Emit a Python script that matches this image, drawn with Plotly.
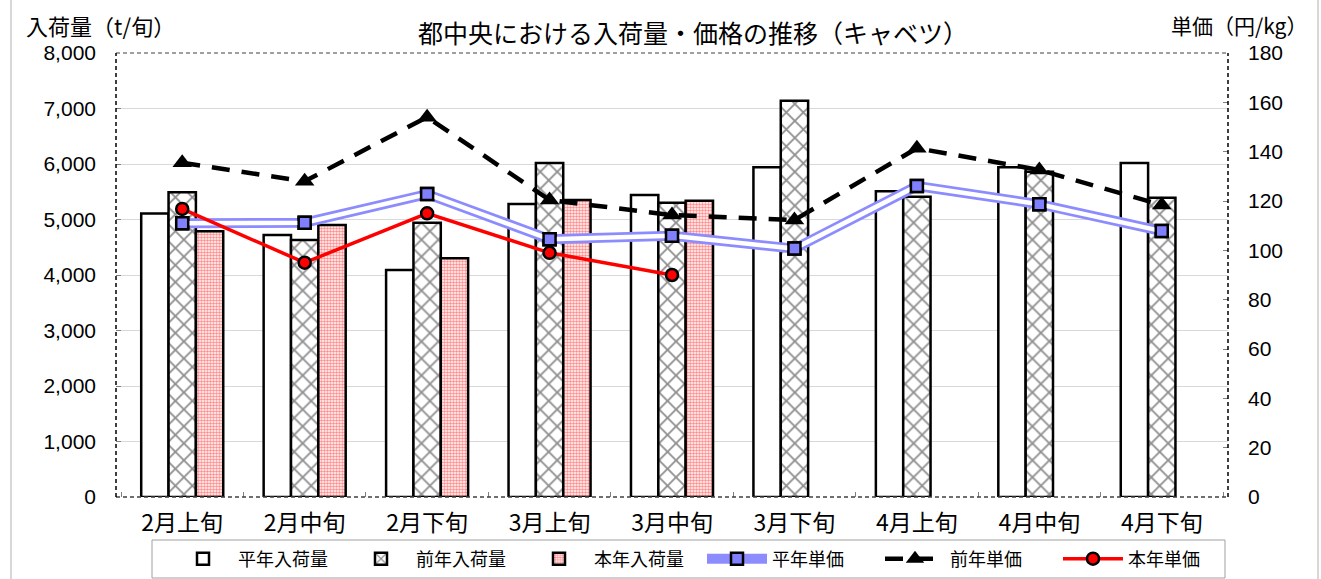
import plotly.graph_objects as go

# 旬別カテゴリ
categories = ["2月上旬", "2月中旬", "2月下旬", "3月上旬", "3月中旬",
              "3月下旬", "4月上旬", "4月中旬", "4月下旬"]

# 入荷量 (t/旬)
normal_volume = [5110, 4720, 4090, 5280, 5440, 5940, 5510, 5940, 6020]
last_year_volume = [5490, 4630, 4940, 6020, 5300, 7140, 5410, 5860, 5390]
this_year_volume = [4790, 4900, 4300, 5350, 5340, None, None, None, None]

# 単価 (円/kg)
normal_price = [111.0, 111.2, 122.8, 104.5, 105.9, 100.7, 126.1, 118.7, 107.8]
last_year_price = [135.5, 128.0, 154.0, 120.4, 114.3, 112.3, 141.4, 132.6, 118.4]
this_year_price = [116.8, 95.0, 115.0, 99.0, 90.0, None, None, None, None]

left_ticks = list(range(0, 8001, 1000))
right_ticks = list(range(0, 181, 20))

JP = "Noto Sans CJK JP"
NUM = "Liberation Sans, Arial"

# plot area in pixels
L, R, T, B = 116, 1228, 53, 497
PW, PH = R - L, B - T


def px_x(x):
    return (x - L) / PW


def px_y(y):
    return (B - y) / PH


fig = go.Figure()

bar_line = dict(color="black", width=2.5)
fig.add_trace(go.Bar(x=categories, y=normal_volume, name="平年入荷量",
                     marker=dict(color="white", line=bar_line)))
fig.add_trace(go.Bar(x=categories, y=last_year_volume, name="前年入荷量",
                     marker=dict(color="white", line=bar_line,
                                 pattern=dict(shape="x", fgcolor="#202020",
                                              bgcolor="white", size=12,
                                              solidity=0.28))))
fig.add_trace(go.Bar(x=categories, y=this_year_volume, name="本年入荷量",
                     marker=dict(color="white", line=bar_line,
                                 pattern=dict(shape=".", fgcolor="#ff1a1a",
                                              bgcolor="white", size=3,
                                              solidity=0.55))))

# 平年単価: 二重線 (太い青線の中央に白線)
fig.add_trace(go.Scatter(x=categories, y=normal_price, name="平年単価",
                         yaxis="y2", mode="lines+markers",
                         line=dict(color="#8c8cff", width=10),
                         marker=dict(symbol="square", size=12, color="#8080ff",
                                     line=dict(color="black", width=2.5))))
fig.add_trace(go.Scatter(x=categories, y=normal_price, yaxis="y2", mode="lines",
                         line=dict(color="white", width=4.5),
                         showlegend=False, hoverinfo="skip"))
fig.add_trace(go.Scatter(x=categories, y=normal_price, yaxis="y2", mode="markers",
                         marker=dict(symbol="square", size=12, color="#8080ff",
                                     line=dict(color="black", width=2.5)),
                         showlegend=False, hoverinfo="skip"))

fig.add_trace(go.Scatter(x=categories, y=last_year_price, name="前年単価",
                         yaxis="y2", mode="lines+markers",
                         line=dict(color="black", width=4.5, dash="18px,12px"),
                         marker=dict(symbol="triangle-up", size=17, color="black")))
fig.add_trace(go.Scatter(x=categories, y=this_year_price, name="本年単価",
                         yaxis="y2", mode="lines+markers",
                         line=dict(color="#ff0000", width=3.5),
                         marker=dict(symbol="circle", size=12, color="#ff0000",
                                     line=dict(color="black", width=2.5))))

fig.update_layout(
    width=1321, height=579,
    margin=dict(l=L, r=1321 - R, t=T, b=579 - B, autoexpand=False),
    paper_bgcolor="white", plot_bgcolor="white",
    barmode="group", bargap=0.33, bargroupgap=0,
    showlegend=True,
    font=dict(family=JP, color="black"),
    xaxis=dict(type="category", ticks="inside", ticklen=5, tickson="boundaries",
               tickcolor="#808080", showgrid=False, showline=False,
               tickfont=dict(family=JP, size=23, color="black"),
               ticklabelstandoff=10),
    yaxis=dict(range=[0, 8000], tickvals=left_ticks, tickformat=",d",
               showgrid=True, gridcolor="#d9d9d9", gridwidth=1,
               ticks="inside", ticklen=5, tickcolor="#808080",
               showline=False, zeroline=False,
               tickfont=dict(family=NUM, size=21, color="black"),
               ticklabelstandoff=19),
    yaxis2=dict(range=[0, 180], tickvals=right_ticks, overlaying="y", side="right",
                showgrid=False, ticks="inside", ticklen=5, tickcolor="#808080",
                showline=False, zeroline=False,
                tickfont=dict(family=NUM, size=21, color="black"),
                ticklabelstandoff=19),
    legend=dict(orientation="h", x=px_x(168), xanchor="left",
                y=px_y(559), yanchor="middle",
                borderwidth=0, bgcolor="rgba(0,0,0,0)",
                font=dict(family=JP, size=18, color="black"),
                itemwidth=60, entrywidth=103, traceorder="normal",
                itemclick=False),
    annotations=[
        dict(text="都中央における入荷量・価格の推移（キャベツ）",
             xref="paper", yref="paper", x=px_x(693), y=px_y(32),
             xanchor="center", yanchor="middle", showarrow=False,
             font=dict(family=JP, size=25, color="black")),
        dict(text="入荷量（t/旬）", xref="paper", yref="paper",
             x=px_x(24), y=px_y(25), xanchor="left", yanchor="middle",
             showarrow=False, font=dict(family=JP, size=22, color="black")),
        dict(text="単価（円/kg）", xref="paper", yref="paper",
             x=px_x(1309), y=px_y(25), xanchor="right", yanchor="middle",
             showarrow=False, font=dict(family=JP, size=21, color="black")),
    ],
    shapes=[
        # plot frame
        dict(type="line", xref="paper", yref="paper", x0=0, x1=1, y0=1, y1=1,
             line=dict(color="#808080", width=1.5, dash="4px,3px")),
        dict(type="line", xref="paper", yref="paper", x0=0, x1=1, y0=0, y1=0,
             line=dict(color="#404040", width=1.5, dash="4px,3px")),
        dict(type="line", xref="paper", yref="paper", x0=0, x1=0, y0=0, y1=1,
             line=dict(color="black", width=1.5, dash="4px,3px")),
        dict(type="line", xref="paper", yref="paper", x0=1, x1=1, y0=0, y1=1,
             line=dict(color="black", width=1.5, dash="4px,3px")),
        # legend box
        dict(type="rect", xref="paper", yref="paper",
             x0=px_x(152), x1=px_x(1225), y0=px_y(578), y1=px_y(540),
             line=dict(color="#a0a0a0", width=1), fillcolor="rgba(0,0,0,0)"),
        # chart area border
        dict(type="line", xref="paper", yref="paper",
             x0=px_x(11), x1=px_x(11), y0=px_y(579), y1=px_y(0),
             line=dict(color="#b0b0b0", width=1)),
        dict(type="line", xref="paper", yref="paper",
             x0=px_x(1318), x1=px_x(1318), y0=px_y(579), y1=px_y(0),
             line=dict(color="#b0b0b0", width=1)),
    ],
)

fig.write_html("out.html")
